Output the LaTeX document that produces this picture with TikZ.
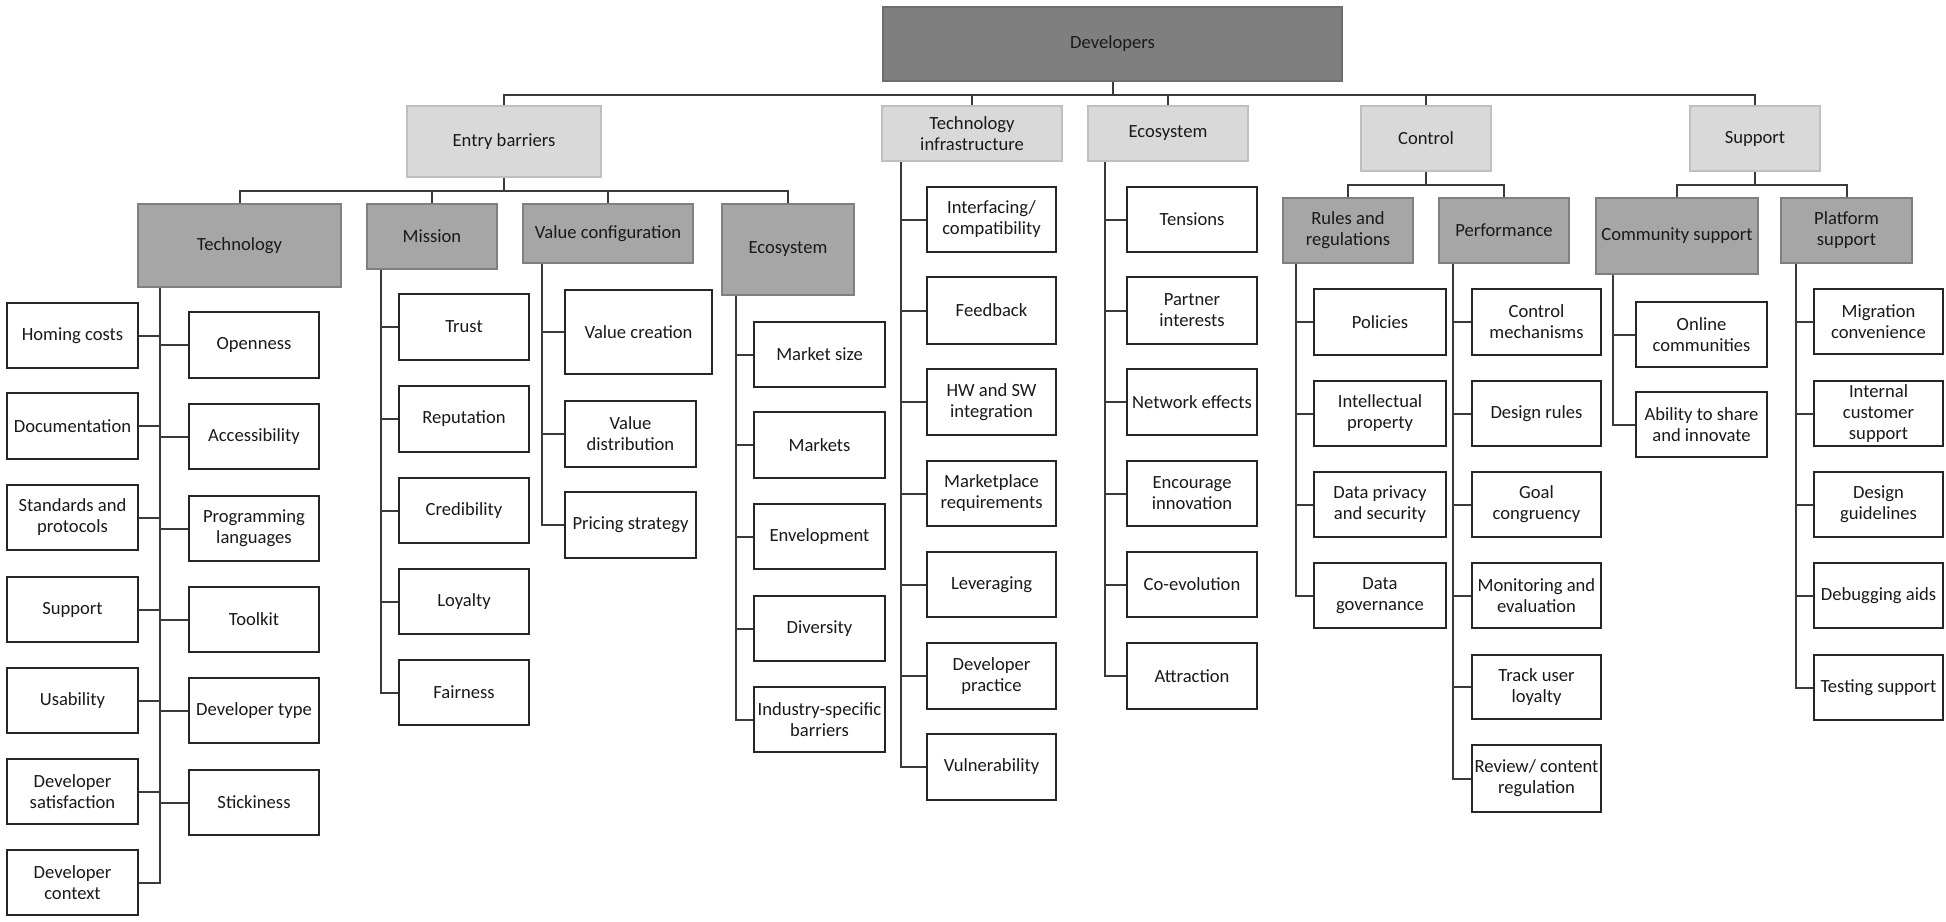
\documentclass[tikz,border=0pt]{standalone}
\usepackage{fontspec}
\setmainfont{Carlito}
\definecolor{devfill}{HTML}{7F7F7F}
\definecolor{devdraw}{HTML}{6E6E6E}
\definecolor{lonefill}{HTML}{D9D9D9}
\definecolor{lonedraw}{HTML}{BFBFBF}
\definecolor{ltwofill}{HTML}{A6A6A6}
\definecolor{ltwodraw}{HTML}{7F7F7F}
\definecolor{leafdraw}{HTML}{262626}
\definecolor{conncol}{HTML}{3A3A3A}
\definecolor{txtcol}{HTML}{1A1A1A}
\newcommand{\bx}[7]{%
  \pgfmathsetmacro{\bxcx}{(#2+#4)/2}%
  \pgfmathsetmacro{\bxcy}{-(#3+#5)/2}%
  \pgfmathsetmacro{\bxw}{#4-#2}%
  \pgfmathsetmacro{\bxh}{#5-#3}%
  \node[#6, minimum width=\bxw pt, minimum height=\bxh pt] (#1) at (\bxcx,\bxcy) {#7};}
\begin{document}
\begin{tikzpicture}[x=1pt,y=1pt,
  every node/.style={font=\fontsize{18.6}{21}\selectfont, text=txtcol, align=center, inner sep=0pt, rectangle},
  devs/.style={fill=devfill, draw=devdraw, line width=2pt},
  lone/.style={fill=lonefill, draw=lonedraw, line width=2.5pt},
  ltwo/.style={fill=ltwofill, draw=ltwodraw, line width=2.5pt},
  leaf/.style={fill=white, draw=leafdraw, line width=2.5pt},
  conn/.style={draw=conncol, line width=2pt}]
\useasboundingbox (0,0) rectangle (1946,-921);

% root and level 1
\bx{dev}{883}{7}{1342}{81}{devs}{Developers}
\bx{eb}{407}{106}{601}{177}{lone}{Entry barriers}
\bx{ti}{882}{106}{1062}{161}{lone}{Technology\\infrastructure}
\bx{ecoa}{1088}{106}{1248}{161}{lone}{Ecosystem}
\bx{ctl}{1361}{106}{1491}{171}{lone}{Control}
\bx{sup}{1690}{106}{1820}{171}{lone}{Support}

% level 2
\bx{tech}{138}{204}{341}{287}{ltwo}{Technology}
\bx{mis}{367}{204}{497}{269}{ltwo}{Mission}
\bx{vc}{523}{204}{693}{263}{ltwo}{Value configuration}
\bx{ecob}{722}{204}{854}{295}{ltwo}{Ecosystem}
\bx{rr}{1283}{198}{1413}{263}{ltwo}{Rules and\\regulations}
\bx{perf}{1439}{198}{1569}{263}{ltwo}{Performance}
\bx{cs}{1596}{198}{1758}{274}{ltwo}{Community support}
\bx{ps}{1781}{198}{1912}{263}{ltwo}{Platform\\support}

% Technology leaves
\bx{hom}{7}{303}{138}{368}{leaf}{Homing costs}
\bx{doc}{7}{393}{138}{459}{leaf}{Documentation}
\bx{std}{7}{485}{138}{550}{leaf}{Standards and\\protocols}
\bx{supp}{7}{577}{138}{642}{leaf}{Support}
\bx{usa}{7}{668}{138}{733}{leaf}{Usability}
\bx{dsat}{7}{759}{138}{824}{leaf}{Developer\\satisfaction}
\bx{dctx}{7}{850}{138}{915}{leaf}{Developer\\context}
\bx{open}{189}{312}{319}{378}{leaf}{Openness}
\bx{acc}{189}{404}{319}{469}{leaf}{Accessibility}
\bx{prog}{189}{496}{319}{561}{leaf}{Programming\\languages}
\bx{tool}{189}{587}{319}{652}{leaf}{Toolkit}
\bx{dtype}{189}{678}{319}{743}{leaf}{Developer type}
\bx{stick}{189}{770}{319}{835}{leaf}{Stickiness}

% Mission leaves
\bx{trust}{399}{294}{529}{360}{leaf}{Trust}
\bx{rep}{399}{386}{529}{452}{leaf}{Reputation}
\bx{cred}{399}{478}{529}{543}{leaf}{Credibility}
\bx{loy}{399}{569}{529}{634}{leaf}{Loyalty}
\bx{fair}{399}{660}{529}{725}{leaf}{Fairness}

% Value configuration leaves
\bx{vcr}{565}{290}{712}{374}{leaf}{Value creation}
\bx{vdist}{565}{401}{696}{467}{leaf}{Value\\distribution}
\bx{price}{565}{492}{696}{558}{leaf}{Pricing strategy}

% Ecosystem (entry barriers) leaves
\bx{msize}{754}{322}{885}{387}{leaf}{Market size}
\bx{mkts}{754}{412}{885}{478}{leaf}{Markets}
\bx{env}{754}{504}{885}{569}{leaf}{Envelopment}
\bx{div}{754}{596}{885}{661}{leaf}{Diversity}
\bx{ind}{754}{687}{885}{752}{leaf}{Industry-specific\\barriers}

% Technology infrastructure leaves
\bx{intf}{927}{187}{1056}{252}{leaf}{Interfacing/\\compatibility}
\bx{fb}{927}{277}{1056}{344}{leaf}{Feedback}
\bx{hwsw}{927}{369}{1056}{435}{leaf}{HW and SW\\integration}
\bx{mreq}{927}{461}{1056}{526}{leaf}{Marketplace\\requirements}
\bx{lev}{927}{552}{1056}{617}{leaf}{Leveraging}
\bx{dprac}{927}{643}{1056}{709}{leaf}{Developer\\practice}
\bx{vuln}{927}{734}{1056}{800}{leaf}{Vulnerability}

% Ecosystem leaves
\bx{tens}{1127}{187}{1257}{252}{leaf}{Tensions}
\bx{pint}{1127}{277}{1257}{344}{leaf}{Partner\\interests}
\bx{neff}{1127}{369}{1257}{435}{leaf}{Network effects}
\bx{encin}{1127}{461}{1257}{526}{leaf}{Encourage\\innovation}
\bx{coev}{1127}{552}{1257}{617}{leaf}{Co-evolution}
\bx{attr}{1127}{643}{1257}{709}{leaf}{Attraction}

% Rules and regulations leaves
\bx{pol}{1314}{289}{1446}{355}{leaf}{Policies}
\bx{ip}{1314}{381}{1446}{446}{leaf}{Intellectual\\property}
\bx{dps}{1314}{472}{1446}{537}{leaf}{Data privacy\\and security}
\bx{dgov}{1314}{563}{1446}{628}{leaf}{Data\\governance}

% Performance leaves
\bx{cmech}{1472}{289}{1601}{355}{leaf}{Control\\mechanisms}
\bx{drul}{1472}{381}{1601}{446}{leaf}{Design rules}
\bx{goal}{1472}{472}{1601}{537}{leaf}{Goal\\congruency}
\bx{mon}{1472}{563}{1601}{628}{leaf}{Monitoring and\\evaluation}
\bx{track}{1472}{655}{1601}{719}{leaf}{Track user\\loyalty}
\bx{rev}{1472}{745}{1601}{812}{leaf}{Review/ content\\regulation}

% Community support leaves
\bx{onl}{1636}{302}{1767}{367}{leaf}{Online\\communities}
\bx{abil}{1636}{392}{1767}{457}{leaf}{Ability to share\\and innovate}

% Platform support leaves
\bx{mig}{1814}{289}{1943}{354}{leaf}{Migration\\convenience}
\bx{ics}{1814}{381}{1943}{446}{leaf}{Internal\\customer\\support}
\bx{dguid}{1814}{472}{1943}{537}{leaf}{Design\\guidelines}
\bx{dbg}{1814}{563}{1943}{628}{leaf}{Debugging aids}
\bx{test}{1814}{655}{1943}{720}{leaf}{Testing support}

% bus levels
\coordinate (devbus) at (0,-95);
\coordinate (ebbus) at (0,-191);
\coordinate (ctlbus) at (0,-185);
\coordinate (supbus) at (0,-185);

\begin{scope}[on background layer/.style={}]
\foreach \c in {eb,ti,ecoa,ctl,sup}
  \draw[conn] (dev.south) -- (dev.south |- devbus) -| (\c.north);
\foreach \c in {tech,mis,vc,ecob}
  \draw[conn] (eb.south) -- (eb.south |- ebbus) -| (\c.north);
\foreach \c in {rr,perf}
  \draw[conn] (ctl.south) -- (ctl.south |- ctlbus) -| (\c.north);
\foreach \c in {cs,ps}
  \draw[conn] (sup.south) -- (sup.south |- supbus) -| (\c.north);
\end{scope}

% vertical spines
\coordinate (techv) at (160,0);
\coordinate (misv) at (381,0);
\coordinate (vcv) at (542,0);
\coordinate (ecobv) at (736,0);
\coordinate (tiv) at (901,0);
\coordinate (ecoav) at (1105,0);
\coordinate (rrv) at (1296,0);
\coordinate (perfv) at (1453,0);
\coordinate (csv) at (1613,0);
\coordinate (psv) at (1796,0);

\foreach \c in {hom,doc,std,supp,usa,dsat,dctx}
  \draw[conn] (techv |- tech.south) |- (\c.east);
\foreach \c in {open,acc,prog,tool,dtype,stick}
  \draw[conn] (techv |- tech.south) |- (\c.west);
\foreach \c in {trust,rep,cred,loy,fair}
  \draw[conn] (misv |- mis.south) |- (\c.west);
\foreach \c in {vcr,vdist,price}
  \draw[conn] (vcv |- vc.south) |- (\c.west);
\foreach \c in {msize,mkts,env,div,ind}
  \draw[conn] (ecobv |- ecob.south) |- (\c.west);
\foreach \c in {intf,fb,hwsw,mreq,lev,dprac,vuln}
  \draw[conn] (tiv |- ti.south) |- (\c.west);
\foreach \c in {tens,pint,neff,encin,coev,attr}
  \draw[conn] (ecoav |- ecoa.south) |- (\c.west);
\foreach \c in {pol,ip,dps,dgov}
  \draw[conn] (rrv |- rr.south) |- (\c.west);
\foreach \c in {cmech,drul,goal,mon,track,rev}
  \draw[conn] (perfv |- perf.south) |- (\c.west);
\foreach \c in {onl,abil}
  \draw[conn] (csv |- cs.south) |- (\c.west);
\foreach \c in {mig,ics,dguid,dbg,test}
  \draw[conn] (psv |- ps.south) |- (\c.west);
\end{tikzpicture}
\end{document}
